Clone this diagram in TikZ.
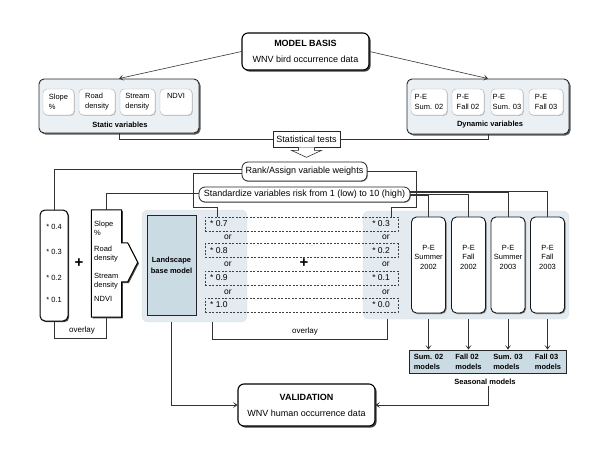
\documentclass[tikz,border=0pt]{standalone}
\usepackage{fontspec}
\setmainfont{Liberation Sans}
\usetikzlibrary{arrows.meta,shadows}

\definecolor{panelbg}{HTML}{E3EBF0}
\definecolor{varbg}{HTML}{EAF0F4}
\definecolor{basebg}{HTML}{CBDBE4}

\tikzset{
  conn/.style={draw=black!80, line width=0.6pt},
  arr/.style={conn, -{Stealth[length=4.5pt,width=6pt,inset=2.5pt]}},
  bigbox/.style={draw=black, line width=1.1pt, rounded corners=6pt, fill=white, align=center,
    minimum width=127pt, font=\fontsize{9}{11}\selectfont,
    drop shadow={shadow xshift=1.6pt, shadow yshift=-1.6pt, fill=black!75, opacity=1}},
  varpanel/.style={draw=black!85, line width=0.9pt, rounded corners=5pt, fill=varbg,
    drop shadow={shadow xshift=1.5pt, shadow yshift=-1.5pt, fill=black!65, opacity=1}},
  varbox/.style={draw=black!30, line width=0.4pt, rounded corners=4pt, fill=white, align=left,
    minimum height=26pt, inner sep=1pt, font=\fontsize{7.5}{10}\selectfont,
    drop shadow={shadow xshift=0.8pt, shadow yshift=-0.8pt, fill=black!25, opacity=1}},
  smalltxt/.style={inner sep=1pt, font=\fontsize{7.5}{9}\selectfont},
  boldtxt/.style={inner sep=1pt, font=\fontsize{7.5}{9}\selectfont\bfseries, align=center},
  valtxt/.style={inner sep=0pt, font=\fontsize{8.5}{10}\selectfont},
  statbox/.style={draw=black!85, line width=0.7pt, fill=white, inner sep=2pt,
    minimum width=67pt, minimum height=16pt, font=\fontsize{9}{11}\selectfont,
    drop shadow={shadow xshift=0.8pt, shadow yshift=-0.8pt, fill=black!40, opacity=1}},
  rbox/.style={draw=black!85, line width=0.8pt, rounded corners=6pt, fill=white, inner xsep=3pt,
    inner ysep=1pt, font=\fontsize{9}{11}\selectfont,
    drop shadow={shadow xshift=0.8pt, shadow yshift=-0.8pt, fill=black!40, opacity=1}},
  shadepanel/.style={draw=black!12, line width=0.4pt, rounded corners=6pt, fill=panelbg},
  wbox/.style={draw=black, line width=1pt, rounded corners=5pt, fill=white,
    minimum width=28pt, minimum height=111pt,
    drop shadow={shadow xshift=1.2pt, shadow yshift=-1.2pt, fill=black!70, opacity=1}},
  landbox/.style={draw=black!85, line width=0.9pt, fill=basebg, align=center,
    minimum width=49pt, minimum height=100pt, font=\fontsize{7.5}{11}\selectfont\bfseries},
  dbox/.style={draw=black!75, line width=0.8pt, dash pattern=on 2pt off 1.5pt,
    minimum width=193pt, minimum height=14pt, inner sep=0pt},
  pebox/.style={draw=black!90, line width=0.9pt, rounded corners=5pt, fill=white,
    minimum width=34pt, minimum height=96pt,
    drop shadow={shadow xshift=1pt, shadow yshift=-1pt, fill=black!55, opacity=1}},
  petxt/.style={inner sep=0pt, align=center, font=\fontsize{7.5}{9.5}\selectfont},
  seasbox/.style={draw=black!85, line width=0.8pt, fill=basebg,
    minimum width=157pt, minimum height=23pt},
  seastxt/.style={inner sep=0pt, align=left, font=\fontsize{7.5}{10}\selectfont\bfseries},
  plus/.style={inner sep=0pt, font=\fontsize{15}{15}\selectfont\bfseries}
}

\begin{document}
\begin{tikzpicture}[x=1pt,y=-1pt]
\useasboundingbox (0,0) rectangle (600,464);

\node[bigbox, minimum height=37pt] (basis) at (305.5,51.5) {\textbf{MODEL BASIS}\\[5pt]WNV bird occurrence data};

\node[varpanel, minimum width=160pt, minimum height=54pt] (static) at (119,106) {};
\foreach \x/\w/\t [count=\k] in {58.5/31/{Slope\\\%}, 97/36/{Road\\density}, 137.5/35/{Stream\\density}, 176/32/{NDVI\\\strut}}
  \node[varbox, minimum width=\w pt] (s\k) at (\x,102) {\t};
\node[boldtxt] (stlab) at (120,125) {Static variables};

\node[varpanel, minimum width=162pt, minimum height=55pt] (dynamic) at (488,106.5) {};
\foreach \x/\w/\t [count=\k] in {429/36/{P-E\\Sum. 02}, 468/32/{P-E\\Fall 02}, 507/32/{P-E\\Sum. 03}, 546/34/{P-E\\Fall 03}}
  \node[varbox, minimum width=\w pt] (d\k) at (\x,102) {\t};
\node[boldtxt] (dylab) at (490,125) {Dynamic variables};

\draw[arr] (basis.west) -- (static.north);
\draw[arr] (basis.east) -- (dynamic.north);

\node[statbox] (stat) at (306.5,139) {Statistical tests};
\draw[conn] (static.south) |- (stat.west);
\draw[conn] (dynamic.south) |- (stat.east);
\draw[conn, fill=white] ([xshift=-8pt]stat.south) -- ++(0,3) -- ++(-7,0) -- ++(15,7) -- ++(15,-7) -- ++(-7,0) -- ++(0,-3);

\node[rbox, minimum width=125pt, minimum height=19pt] (rank) at (304.5,171.5) {Rank/Assign variable weights};
\node[rbox, minimum width=211pt, minimum height=15pt] (stdz) at (304.5,194.5) {Standardize variables risk from 1 (low) to 10 (high)};

\node[shadepanel, minimum width=105pt, minimum height=112pt] (lpanel) at (194.5,266) {};
\node[shadepanel, minimum width=206pt, minimum height=108pt] (rpanel) at (466,265) {};

\node[wbox] (weights) at (54,265.5) {};
\foreach \v/\y [count=\k] in {0.4/227, 0.3/252, 0.2/278, 0.1/300}
  \node[smalltxt] (w\k) at (54,\y) {* \v};
\node[plus] (plus1) at (79,263) {+};

\node[minimum width=30pt, minimum height=107pt, inner sep=0pt] (vars) at (106.5,263.5) {};
\draw[draw=black, line width=1pt, fill=white, drop shadow={shadow xshift=1.2pt, shadow yshift=-1.2pt, fill=black!70, opacity=1}]
  (vars.north west) -- (vars.north east) -- ++(0,33) -- ++(6,0) -- ++(10,19.5) -- ++(-10,19.5) -- ++(-6,0)
  -- (vars.south east) -- (vars.south west) -- cycle;
\foreach \t/\y [count=\k] in {{Slope\\\%}/228.5, {Road\\density}/254.5, {Stream\\density}/281.5, {NDVI}/299}
  \node[smalltxt, align=left, anchor=west] (v\k) at (93,\y) {\t};

\node[landbox] (land) at (171.5,265) {Landscape\\base model};

\foreach \y [count=\k] in {224, 250.5, 278, 305}
  \node[dbox] (p\k) at (301.5,\y) {};
\foreach \a/\b/\y [count=\k] in {0.7/0.3/224, 0.8/0.2/250.5, 0.9/0.1/278, 1.0/0.0/305} {
  \node[valtxt, anchor=west] (l\k) at (210,\y) {* \a};
  \node[valtxt, anchor=east] (r\k) at (390,\y) {* \b};
}
\foreach \y [count=\k] in {237.5, 264.5, 292} {
  \node[valtxt] (ol\k) at (228,\y) {or};
  \node[valtxt] (or\k) at (386,\y) {or};
}
\node[plus] (plus2) at (304,263) {+};

\foreach \x/\t [count=\k] in {428.5/{P-E\\Summer\\2002}, 468.5/{P-E\\Fall\\2002}, 508/{P-E\\Summer\\2003}, 547.5/{P-E\\Fall\\2003}} {
  \node[pebox] (pe\k) at (\x,265) {};
  \node[petxt] (pt\k) at (\x,257) {\t};
}

\coordinate (lb) at (193,207);
\coordinate (rb) at (416,207);
\draw[conn] ([yshift=2.5pt]rank.west) -| (weights.north);
\draw[conn] ([yshift=-1.5pt]rank.west) -| (lb) -| ([xshift=13pt]p1.north west);
\draw[conn] (rank.east) -| (rb) -| ([xshift=-7pt]p1.north east);
\draw[conn] ([yshift=1.5pt]stdz.west) -| (vars.north);
\foreach \i/\s in {1/-1, 2/0.5, 3/2, 4/3.5}
  \draw[conn] ([yshift=\s pt]stdz.east) -| (pe\i.north);

\node[smalltxt, font=\fontsize{8}{9}\selectfont] (ovl1) at (82,330) {overlay};
\draw[conn] (weights.south) |- ([yshift=-3pt]ovl1.south) -| (vars.south);
\node[smalltxt, font=\fontsize{8}{9}\selectfont] (ovl2) at (305,331) {overlay};
\draw[conn] ([xshift=17.5pt]lpanel.south) |- ([yshift=-3pt]ovl2.south) -| ([xshift=-79pt]rpanel.south);

\node[seasbox] (season) at (487.5,361.5) {};
\foreach \x/\t [count=\k] in {428.5/Sum. 02, 468.5/Fall 02, 508/Sum. 03, 548/Fall 03}
  \node[seastxt] (m\k) at (\x,362) {\t\\models};
\node[boldtxt] (slab) at (485,382) {Seasonal models};
\foreach \i in {1,...,4}
  \draw[arr] (pe\i |- rpanel.south) -- (pe\i |- season.north);

\node[bigbox, minimum width=137pt, minimum height=42pt] (valid) at (306.5,405) {\textbf{VALIDATION}\\[5pt]WNV human occurrence data};
\draw[arr] (land |- lpanel.south) |- (valid.west);
\draw[arr] ([xshift=3pt]slab.south) |- (valid.east);
\end{tikzpicture}
\end{document}
